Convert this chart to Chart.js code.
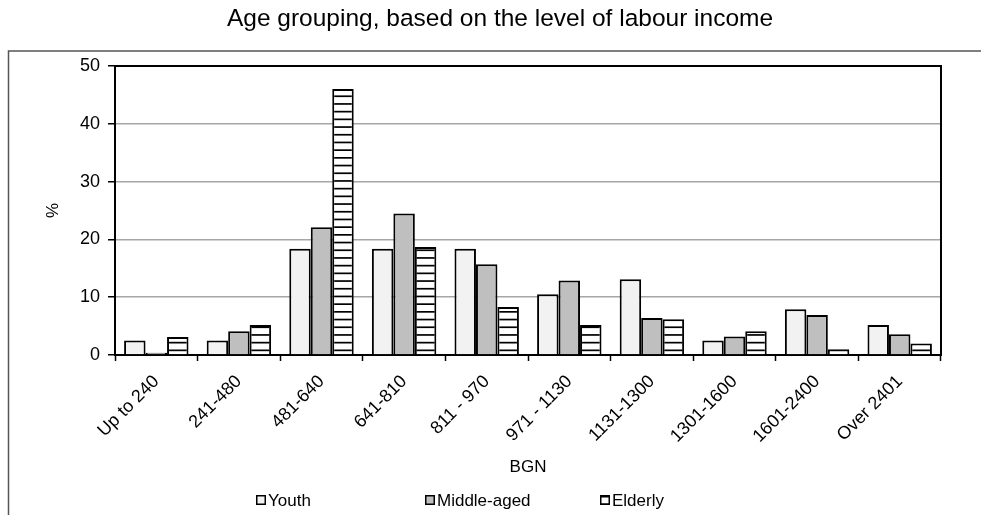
<!DOCTYPE html>
<html>
<head>
<meta charset="utf-8">
<title>Age grouping by labour income</title>
<script src="https://cdn.jsdelivr.net/npm/chart.js@4.4.1/dist/chart.umd.min.js"></script>
<style>
  html, body { margin: 0; padding: 0; background: #fff; }
</style>
</head>
<body>
<canvas id="ageChart" width="981" height="515"></canvas>
<script>
// income bands (BGN) and share of each age group, %
const incomeBands = ['Up to 240', '241-480', '481-640', '641-810', '811 - 970',
                     '971 - 1130', '1131-1300', '1301-1600', '1601-2400', 'Over 2401'];
const youth      = [2.5, 2.5, 18.4, 18.4, 18.4, 10.5, 13.1, 2.5, 7.9, 5.2];
const middleAged = [0.4, 4.1, 22.1, 24.5, 15.7, 12.9, 6.4, 3.2, 6.9, 3.6];
const elderly    = [3.1, 5.2, 46.0, 18.7, 8.3, 5.2, 6.2, 4.1, 1.0, 2.0];
const yTicks     = [0, 10, 20, 30, 40, 50];

const FONT = '"Liberation Sans", Arial, sans-serif';
Chart.defaults.font.family = FONT;
Chart.defaults.color = '#000';

// white fill with thin horizontal black stripes
function stripes() {
    const c = document.createElement('canvas');
    c.width = 8;
    c.height = 77;
    const g = c.getContext('2d');
    g.fillStyle = '#fff';
    g.fillRect(0, 0, c.width, c.height);
    g.fillStyle = '#000';
    for (let i = 0; i < 10; i++) {
        g.fillRect(0, i * 7.7 + 3, c.width, 1.7);
    }
    return g.createPattern(c, 'repeat');
}

// outer frame + closing the plot box on top and right
const frame = {
    id: 'frame',
    beforeDraw(chart) {
        const ctx = chart.ctx;
        ctx.save();
        ctx.strokeStyle = '#555';
        ctx.lineWidth = 1.5;
        ctx.beginPath();
        ctx.moveTo(8.5, chart.height);
        ctx.lineTo(8.5, 51);
        ctx.lineTo(chart.width, 51);
        ctx.stroke();
        ctx.restore();
    },
    afterDraw(chart) {
        const {ctx, chartArea: a} = chart;
        ctx.save();
        ctx.strokeStyle = '#000';
        ctx.lineWidth = 2;
        ctx.beginPath();
        ctx.moveTo(a.left, a.top);
        ctx.lineTo(a.right, a.top);
        ctx.lineTo(a.right, a.bottom);
        ctx.stroke();
        ctx.restore();
    }
};

// legend laid out in fixed slots along the bottom
const legendSlots = [256, 425, 600];
const slotLegend = {
    id: 'slotLegend',
    afterDraw(chart) {
        const ctx = chart.ctx;
        const y = 500;
        ctx.save();
        ctx.font = '17px ' + FONT;
        ctx.textBaseline = 'middle';
        chart.data.datasets.forEach((ds, i) => {
            const x = legendSlots[i];
            ctx.fillStyle = ds.backgroundColor;
            ctx.fillRect(x, y - 5, 10, 10);
            ctx.strokeStyle = '#000';
            ctx.lineWidth = 1.5;
            ctx.strokeRect(x + 0.75, y - 4.25, 8.5, 8.5);
            ctx.fillStyle = '#000';
            ctx.fillText(ds.label, x + 12, y + 1);
        });
        ctx.restore();
    }
};

const ageData = {
    labels: incomeBands,
    datasets: [{
        label: 'Youth',
        data: youth,
        backgroundColor: '#f2f2f2',
        borderColor: '#000',
        borderWidth: 2
    }, {
        label: 'Middle-aged',
        data: middleAged,
        backgroundColor: '#bfbfbf',
        borderColor: '#000',
        borderWidth: 2
    }, {
        label: 'Elderly',
        data: elderly,
        backgroundColor: stripes(),
        borderColor: '#000',
        borderWidth: 2
    }]
};

const ageConfig = {
    type: 'bar',
    data: ageData,
    plugins: [frame, slotLegend],
    options: {
        responsive: false,
        animation: false,
        devicePixelRatio: 1,
        categoryPercentage: 0.78,
        barPercentage: 1,
        layout: { padding: { left: 59, right: 40, top: 0, bottom: 37 } },
        plugins: {
            legend: { display: false },
            tooltip: { enabled: false },
            title: {
                display: true,
                text: 'Age grouping, based on the level of labour income',
                color: '#000',
                font: { size: 24.5, weight: 'normal' },
                padding: { top: 5, bottom: 31.6 }
            }
        },
        scales: {
            x: {
                grid: { display: true, drawOnChartArea: false, drawTicks: true,
                        tickLength: 6, tickColor: '#000', tickWidth: 1.5, offset: true },
                border: { color: '#000', width: 2 },
                ticks: { color: '#000', font: { size: 18 }, minRotation: 45, maxRotation: 45,
                         autoSkip: false, padding: 10 },
                title: { display: true, text: 'BGN', color: '#000', font: { size: 17 },
                         padding: { top: 0, bottom: 0 } },
                afterFit(scale) { scale.height = 123; }
            },
            y: {
                min: yTicks[0],
                max: yTicks[yTicks.length - 1],
                afterBuildTicks(scale) { scale.ticks = yTicks.map(v => ({ value: v })); },
                ticks: { color: '#000', font: { size: 18 }, padding: 8 },
                grid: { color: '#a6a6a6', lineWidth: 1.5, tickLength: 7,
                        tickColor: '#000', tickWidth: 1.5 },
                border: { color: '#000', width: 2 },
                title: { display: true, text: '%', color: '#000', font: { size: 17 },
                         padding: { top: -16, bottom: 0 } },
                afterFit(scale) { scale.width = 56; }
            }
        }
    }
};

const ageChart = new Chart(
    document.getElementById('ageChart'),
    ageConfig
);
</script>
</body>
</html>
